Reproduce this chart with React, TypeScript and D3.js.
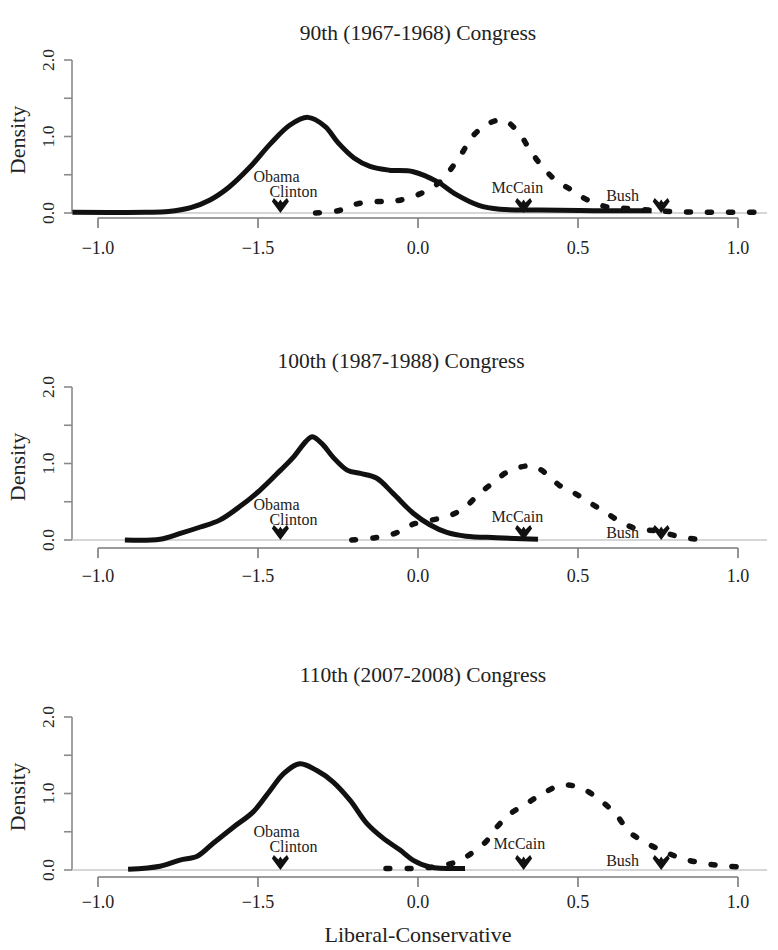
import React from "react";
import * as d3 from "d3";

// ---------- data ----------
const xTicks = [-1.0, -0.5, 0.0, 0.5, 1.0];
const xTickLabels = ["\u22121.0", "\u22121.5", "0.0", "0.5", "1.0"];
const yTicks = [0, 0.5, 1, 1.5, 2];
const yTickLabels = ["0.0", "", "1.0", "", "2.0"];

const titles = ["90th (1967-1968) Congress", "100th (1987-1988) Congress", "110th (2007-2008) Congress"];

const dem90: [number, number][] = [
  [-1.08, 0.01], [-0.85, 0.01], [-0.78, 0.02], [-0.71, 0.07], [-0.65, 0.17], [-0.59, 0.34],
  [-0.525, 0.6], [-0.46, 0.91], [-0.4, 1.15], [-0.344, 1.25], [-0.29, 1.13], [-0.25, 0.92],
  [-0.2, 0.72], [-0.15, 0.61], [-0.09, 0.56], [-0.015, 0.54], [0.06, 0.41], [0.12, 0.24],
  [0.19, 0.1], [0.256, 0.05], [0.38, 0.04], [0.55, 0.03], [0.73, 0.03],
];
const rep90: [number, number][] = [
  [-0.32, 0], [-0.25, 0.03], [-0.19, 0.12], [-0.125, 0.15], [-0.066, 0.16], [0.006, 0.25],
  [0.07, 0.41], [0.1, 0.56], [0.137, 0.78], [0.17, 1.0], [0.22, 1.17], [0.27, 1.21],
  [0.32, 1.02], [0.35, 0.82], [0.39, 0.6], [0.43, 0.43], [0.48, 0.3], [0.53, 0.17],
  [0.59, 0.08], [0.65, 0.06], [0.72, 0.04], [0.79, 0.02], [0.9, 0.01], [1.08, 0.01],
];
const dem100: [number, number][] = [
  [-0.916, 0], [-0.806, 0.01], [-0.74, 0.09], [-0.68, 0.17], [-0.62, 0.26], [-0.556, 0.44],
  [-0.494, 0.65], [-0.43, 0.91], [-0.39, 1.08], [-0.35, 1.29], [-0.33, 1.35], [-0.296, 1.24],
  [-0.265, 1.08], [-0.22, 0.91], [-0.18, 0.87], [-0.13, 0.81], [-0.078, 0.61], [-0.015, 0.35],
  [0.037, 0.2], [0.09, 0.1], [0.15, 0.05], [0.246, 0.03], [0.375, 0.01],
];
const rep100: [number, number][] = [
  [-0.207, 0], [-0.134, 0.03], [-0.07, 0.09], [-0.02, 0.2], [0.1, 0.32], [0.15, 0.44],
  [0.19, 0.6], [0.235, 0.75], [0.28, 0.89], [0.355, 0.97], [0.4, 0.87], [0.44, 0.72],
  [0.49, 0.61], [0.54, 0.48], [0.59, 0.35], [0.64, 0.22], [0.69, 0.14], [0.745, 0.12],
  [0.82, 0.04], [0.89, 0],
];
const dem110: [number, number][] = [
  [-0.906, 0.01], [-0.806, 0.05], [-0.744, 0.13], [-0.69, 0.18], [-0.64, 0.35], [-0.577, 0.56],
  [-0.515, 0.76], [-0.462, 1.04], [-0.42, 1.26], [-0.37, 1.39], [-0.316, 1.3], [-0.265, 1.15],
  [-0.212, 0.91], [-0.16, 0.61], [-0.11, 0.42], [-0.056, 0.26], [-0.016, 0.13], [0.037, 0.04],
  [0.147, 0.02],
];
const rep110: [number, number][] = [
  [-0.1, 0.02], [-0.025, 0.02], [0.05, 0.04], [0.115, 0.1], [0.157, 0.19], [0.21, 0.36],
  [0.246, 0.56], [0.29, 0.74], [0.34, 0.87], [0.39, 1.0], [0.45, 1.11], [0.51, 1.07],
  [0.57, 0.91], [0.62, 0.72], [0.66, 0.5], [0.715, 0.35], [0.77, 0.24], [0.825, 0.15],
  [0.89, 0.09], [0.965, 0.05], [1.04, 0.04],
];

const candidates = ["Obama", "Clinton", "McCain", "Bush"];
const candidateScores = [-0.43, -0.43, 0.33, 0.76];

const demSeries = [dem90, dem100, dem110];
const repSeries = [rep90, rep100, rep110];

// ---------- layout ----------
const W = 778;
const H = 950;
const FONT = "'Liberation Serif', 'Times New Roman', serif";
const panels = [
  { zero: 213, axisGap: 5, titleY: 40, titleX: 418, tickLabelY: 41,
    lab: [[-27, -31], [-11, -16], [-32, -20], [-55, -12]] },
  { zero: 540, axisGap: 8, titleY: 368, titleX: 401, tickLabelY: 42,
    lab: [[-27, -30], [-11, -15], [-32, -18], [-55, -2]] },
  { zero: 870, axisGap: 7, titleY: 682, titleX: 423, tickLabelY: 38,
    lab: [[-27, -33], [-11, -18], [-30, -21], [-55, -4]] },
];

const x = d3.scaleLinear().domain([-1, 1]).range([98, 738]);
const arrowPath = "M0,0 L-8.5,-11.5 L-6.5,-15 L-2,-10.5 L0,-13.5 L2,-10.5 L6.5,-15 L8.5,-11.5 Z";

function Panel({ i }: { i: number }) {
  const p = panels[i];
  const y = d3.scaleLinear().domain([0, 2]).range([p.zero, p.zero - 153]);
  const line = d3.line<[number, number]>()
    .x((d) => x(d[0]))
    .y((d) => y(d[1]))
    .curve(d3.curveCatmullRom.alpha(0.5));
  const axisY = p.zero + p.axisGap;
  const markerXs = [candidateScores[0], candidateScores[2], candidateScores[3]];
  return (
    <g>
      <text x={p.titleX} y={p.titleY} textAnchor="middle" fontSize={21.5} fontFamily={FONT} fill="#222">
        {titles[i]}
      </text>
      {/* y axis */}
      <line x1={72} x2={72} y1={y(2)} y2={y(0)} stroke="#8a8a8a" strokeWidth={1.6} />
      {yTicks.map((t, k) => (
        <g key={k}>
          <line x1={64} x2={72} y1={y(t)} y2={y(t)} stroke="#8a8a8a" strokeWidth={1.6} />
          {yTickLabels[k] && (
            <text transform={`translate(48,${y(t)}) rotate(-90)`} textAnchor="middle"
              dominantBaseline="central" fontSize={17.5} fontFamily={FONT} fill="#222">
              {yTickLabels[k]}
            </text>
          )}
        </g>
      ))}
      <text transform={`translate(17,${p.zero - 73}) rotate(-90)`} textAnchor="middle"
        dominantBaseline="central" fontSize={22} fontFamily={FONT} fill="#222">Density</text>
      {/* baseline */}
      <line x1={72} x2={767} y1={y(0)} y2={y(0)} stroke="#c8c8c8" strokeWidth={1.4} />
      {/* x axis */}
      <line x1={x(-1)} x2={x(1)} y1={axisY} y2={axisY} stroke="#7a7a7a" strokeWidth={1.6} />
      {xTicks.map((t, k) => (
        <g key={k}>
          <line x1={x(t)} x2={x(t)} y1={axisY} y2={axisY + 10} stroke="#7a7a7a" strokeWidth={1.6} />
          <text x={x(t)} y={p.zero + p.tickLabelY} textAnchor="middle" fontSize={18}
            fontFamily={FONT} fill="#222">{xTickLabels[k]}</text>
        </g>
      ))}
      {/* curves */}
      <path d={line(demSeries[i]) || ""} fill="none" stroke="#111" strokeWidth={5} strokeLinejoin="round" />
      <path d={line(repSeries[i]) || ""} fill="none" stroke="#111" strokeWidth={5.5}
        strokeDasharray="4 17" strokeLinecap="round" />
      {/* markers */}
      {markerXs.map((v, k) => (
        <path key={k} d={arrowPath} transform={`translate(${x(v)},${y(0)})`} fill="#111" />
      ))}
      {candidates.map((c, k) => (
        <text key={c} x={x(candidateScores[k]) + p.lab[k][0]} y={p.zero + p.lab[k][1]}
          fontSize={16} fontFamily={FONT} fill="#222">{c}</text>
      ))}
    </g>
  );
}

export default function App() {
  return (
    <svg width={W} height={H} style={{ position: "absolute", left: 0, top: 0, background: "#fff" }}>
      <rect width={W} height={H} fill="#fff" />
      {panels.map((_, i) => <Panel key={i} i={i} />)}
      <text x={418} y={942} textAnchor="middle" fontSize={22} fontFamily={FONT} fill="#222">
        Liberal-Conservative
      </text>
    </svg>
  );
}
